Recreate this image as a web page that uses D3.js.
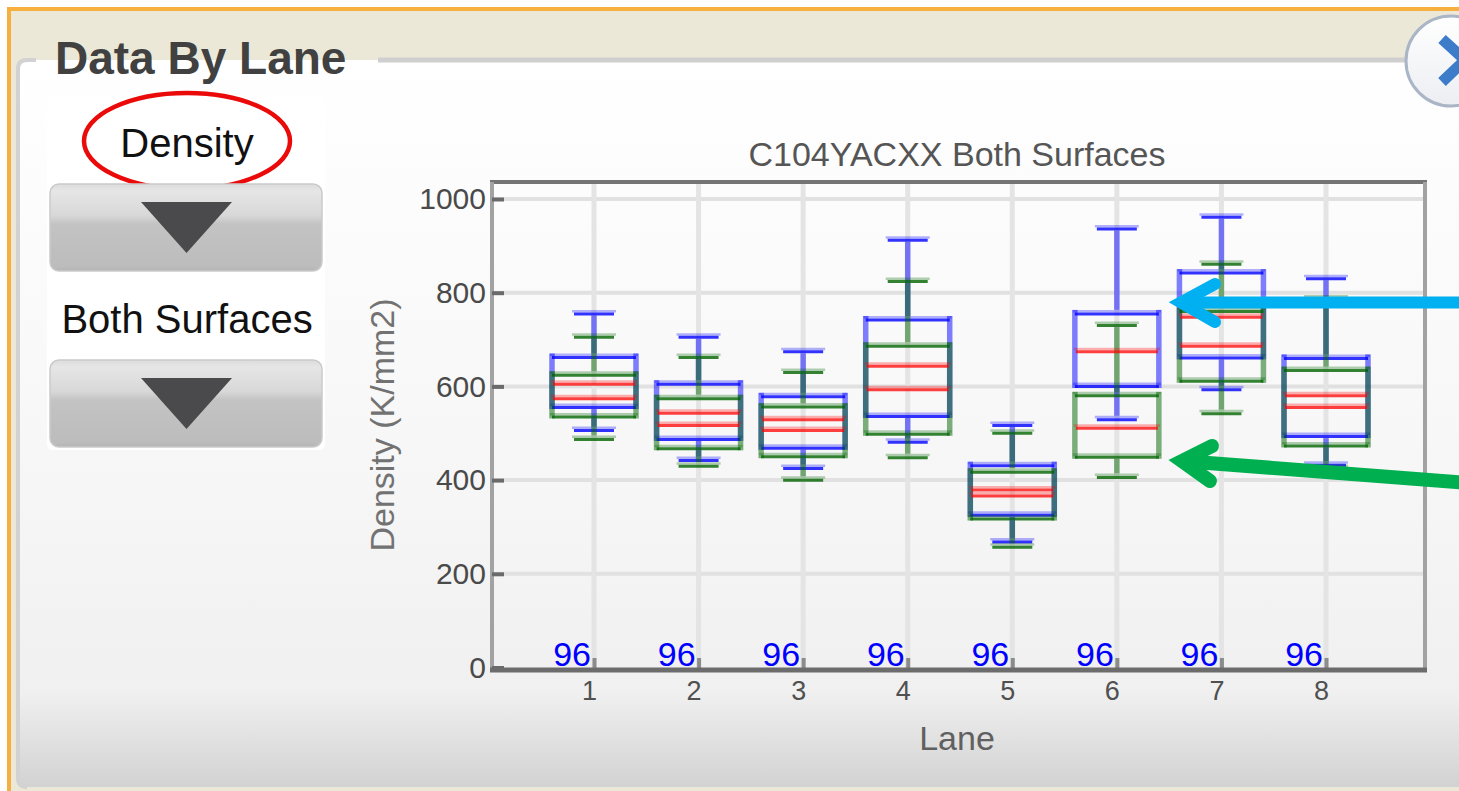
<!DOCTYPE html>
<html>
<head>
<meta charset="utf-8">
<script src="https://cdn.jsdelivr.net/npm/d3@7"></script>
<style>
  html, body { margin: 0; padding: 0; background: #fff; overflow: hidden; }
  svg { display: block; font-family: "Liberation Sans", Arial, sans-serif; }
</style>
</head>
<body>
<svg id="chart" width="1459" height="791"></svg>
<script>
// ---- data ---------------------------------------------------------------
const lanes = [1, 2, 3, 4, 5, 6, 7, 8];
const laneCounts = [96, 96, 96, 96, 96, 96, 96, 96];
const yTicks = [0, 200, 400, 600, 800, 1000];

// surface 1 (blue): whisker low, Q1, median, Q3, whisker high
const s1Low    = [509, 445, 428, 484, 271, 532, 596, 435];
const s1Q1     = [558, 490, 471, 539, 328, 603, 664, 496];
const s1Median = [608, 546, 532, 646, 382, 677, 751, 583];
const s1Q3     = [665, 608, 581, 745, 434, 758, 845, 663];
const s1High   = [758, 708, 677, 915, 520, 939, 964, 833];

// surface 2 (green)
const s2Low    = [490, 433, 403, 451, 260, 409, 545, 428];
const s2Q1     = [538, 470, 453, 501, 320, 452, 614, 476];
const s2Median = [577, 520, 509, 596, 369, 514, 689, 558];
const s2Q3     = [627, 577, 559, 689, 420, 583, 763, 637];
const s2High   = [708, 665, 633, 827, 503, 733, 864, 790];

const chartTitle = "C104YACXX Both Surfaces";
const yTitle = "Density (K/mm2)";
const xTitle = "Lane";
const metricLabel = "Density";
const surfaceLabel = "Both Surfaces";
const panelTitle = "Data By Lane";

// ---- canvas -------------------------------------------------------------
const svg = d3.select("#chart");
const defs = svg.append("defs");

const panelGrad = defs.append("linearGradient")
  .attr("id", "panelGrad").attr("x1", 0).attr("y1", 0).attr("x2", 0).attr("y2", 1);
panelGrad.append("stop").attr("offset", 0).attr("stop-color", "#ffffff");
panelGrad.append("stop").attr("offset", 0.6).attr("stop-color", "#f6f6f6");
panelGrad.append("stop").attr("offset", 0.87).attr("stop-color", "#f0f0f0");
panelGrad.append("stop").attr("offset", 1).attr("stop-color", "#d2d2d2");

const btnGrad = defs.append("linearGradient")
  .attr("id", "btnGrad").attr("x1", 0).attr("y1", 0).attr("x2", 0).attr("y2", 1);
[[0, "#dcdcdc"], [0.08, "#e6e6e6"], [0.36, "#d8d8d8"], [0.46, "#c3c3c3"], [0.95, "#bcbcbc"], [1, "#b4b4b4"]]
  .forEach(([o, c]) => btnGrad.append("stop").attr("offset", o).attr("stop-color", c));

const circGrad = defs.append("linearGradient")
  .attr("id", "circGrad").attr("x1", 0).attr("y1", 0).attr("x2", 0).attr("y2", 1);
circGrad.append("stop").attr("offset", 0).attr("stop-color", "#ffffff");
circGrad.append("stop").attr("offset", 1).attr("stop-color", "#eceef2");

// outer frame
svg.append("rect").attr("x", 9).attr("y", 9).attr("width", 1470).attr("height", 800)
  .attr("fill", "#ece8d8").attr("stroke", "#f7b040").attr("stroke-width", 4);

// panel body
svg.append("rect").attr("x", 18).attr("y", 60).attr("width", 1460).attr("height", 727)
  .attr("rx", 8).attr("fill", "url(#panelGrad)");
svg.append("path")
  .attr("d", "M36,60 L27,60 Q18,60 18,69 L18,778 Q18,787 27,787")
  .attr("fill", "none").attr("stroke", "#d2d2d2").attr("stroke-width", 4);
svg.append("path").attr("d", "M378,60 L1470,60")
  .attr("fill", "none").attr("stroke", "#cfcfcf").attr("stroke-width", 5);

svg.append("text").attr("x", 55).attr("y", 74)
  .attr("font-size", 46).attr("font-weight", "bold").attr("fill", "#414141")
  .text(panelTitle);

// round navigation button
svg.append("circle").attr("cx", 1451).attr("cy", 61).attr("r", 45)
  .attr("fill", "url(#circGrad)").attr("stroke", "#aab5c6").attr("stroke-width", 3);
svg.append("polyline").attr("points", "1442,39 1465,60 1442,82")
  .attr("fill", "none").attr("stroke", "#3c7cc8").attr("stroke-width", 11);

// ---- selector widgets --------------------------------------------------
svg.append("rect").attr("x", 47).attr("y", 97).attr("width", 278).attr("height", 353)
  .attr("rx", 6).attr("fill", "#ffffff");

function dropButton(top) {
  svg.append("rect").attr("x", 50).attr("y", top).attr("width", 272).attr("height", 87)
    .attr("rx", 9).attr("fill", "url(#btnGrad)").attr("stroke", "#cacaca").attr("stroke-width", 1.5);
  svg.append("path")
    .attr("d", `M141,${top + 18} L232,${top + 18} L186.5,${top + 69} Z`)
    .attr("fill", "#4a4a4c");
}

svg.append("text").attr("x", 187).attr("y", 157).attr("text-anchor", "middle")
  .attr("font-size", 40).attr("fill", "#111").text(metricLabel);
svg.append("ellipse").attr("cx", 187).attr("cy", 141).attr("rx", 103).attr("ry", 48)
  .attr("fill", "none").attr("stroke", "#ea0a0a").attr("stroke-width", 4.5);
dropButton(184);

svg.append("text").attr("x", 187).attr("y", 333).attr("text-anchor", "middle")
  .attr("font-size", 40).attr("fill", "#111").text(surfaceLabel);
dropButton(360);

// ---- chart --------------------------------------------------------------
const plot = { left: 492, right: 1425, top: 182, bottom: 670 };
const x = d3.scaleLinear().domain([1, 8]).range([594, 1326]);
const y = d3.scaleLinear().domain([0, 1000]).range([667.5, 199]);

svg.append("text").attr("x", 957).attr("y", 166).attr("text-anchor", "middle")
  .attr("font-size", 34).attr("fill", "#555").text(chartTitle);

// gridlines
svg.append("g").selectAll("line").data(yTicks.filter(d => d > 0)).join("line")
  .attr("x1", plot.left).attr("x2", plot.right)
  .attr("y1", d => y(d)).attr("y2", d => y(d))
  .attr("stroke", "#e1e1e1").attr("stroke-width", 4);
svg.append("g").selectAll("line").data(lanes).join("line")
  .attr("x1", d => x(d)).attr("x2", d => x(d))
  .attr("y1", plot.top).attr("y2", plot.bottom)
  .attr("stroke", "#e4e4e4").attr("stroke-width", 5);

// frame
svg.append("line").attr("x1", plot.left - 2).attr("x2", plot.right + 2)
  .attr("y1", plot.top).attr("y2", plot.top).attr("stroke", "#747474").attr("stroke-width", 4);
svg.append("line").attr("x1", plot.right).attr("x2", plot.right)
  .attr("y1", plot.top).attr("y2", plot.bottom).attr("stroke", "#a2a2a2").attr("stroke-width", 4);
svg.append("line").attr("x1", plot.left).attr("x2", plot.left)
  .attr("y1", plot.top).attr("y2", plot.bottom).attr("stroke", "#a2a2a2").attr("stroke-width", 4);

// y axis
const yAxis = svg.append("g").attr("transform", `translate(${plot.left},0)`)
  .call(d3.axisLeft(y).tickValues(yTicks).tickFormat(d3.format("d")).tickSize(-12).tickPadding(6));
yAxis.select(".domain").remove();
yAxis.selectAll(".tick line").attr("stroke", "#6a6a6a").attr("stroke-width", 4);
yAxis.selectAll(".tick text").attr("font-size", 30).attr("fill", "#4a4a4a")
  .attr("font-family", "Liberation Sans, Arial, sans-serif").attr("dy", "0.32em");

// x axis
const xAxis = svg.append("g").attr("transform", `translate(0,${plot.bottom})`)
  .call(d3.axisBottom(x).tickValues(lanes).tickFormat(d3.format("d")).tickSize(-12).tickPadding(11));
xAxis.select(".domain").remove();
xAxis.selectAll(".tick line").attr("stroke", "#8c8c8c").attr("stroke-width", 4);
xAxis.selectAll(".tick text").attr("font-size", 27).attr("fill", "#505050")
  .attr("font-family", "Liberation Sans, Arial, sans-serif").attr("dx", -5);
svg.append("line").attr("x1", plot.left - 2).attr("x2", plot.right + 2)
  .attr("y1", plot.bottom).attr("y2", plot.bottom).attr("stroke", "#6c6c6c").attr("stroke-width", 5);

svg.append("text").attr("x", 957).attr("y", 750).attr("text-anchor", "middle")
  .attr("font-size", 34).attr("fill", "#606060").text(xTitle);
svg.append("text").attr("transform", "translate(394,425) rotate(-90)")
  .attr("text-anchor", "middle").attr("font-size", 34).attr("fill", "#727272").text(yTitle);

// ---- box plots ----------------------------------------------------------
const boxHalf = 42, capHalf = 20;

function summaries(low, q1, med, q3, high) {
  return lanes.map((lane, i) => ({ lane, lo: low[i], q1: q1[i], med: med[i], q3: q3[i], hi: high[i] }));
}

// horizontal stroke rendered as a pale upper band over a stronger lower band
function hBands(g, data, x1, x2, yv, color, strong) {
  g.append("g").selectAll("line").data(data).join("line")
    .attr("x1", d => x1(d) - 2).attr("x2", d => x2(d) + 2)
    .attr("y1", d => yv(d) - 1.25).attr("y2", d => yv(d) - 1.25)
    .attr("stroke", color).attr("stroke-opacity", 0.3).attr("stroke-width", 2.5);
  g.append("g").selectAll("line").data(data).join("line")
    .attr("x1", x1).attr("x2", x2)
    .attr("y1", d => yv(d) + 1.5).attr("y2", d => yv(d) + 1.5)
    .attr("stroke", color).attr("stroke-opacity", strong).attr("stroke-width", 3);
}

function vLines(g, data, xv, y1, y2, color) {
  g.append("g").selectAll("line").data(data).join("line")
    .attr("x1", xv).attr("x2", xv).attr("y1", y1).attr("y2", y2)
    .attr("stroke", color).attr("stroke-opacity", 0.5).attr("stroke-width", 5.5);
}

function drawBoxes(data, color) {
  const g = svg.append("g");
  // whiskers
  vLines(g, data, d => x(d.lane), d => y(d.hi) + 3, d => y(d.q3) - 2.5, color);
  vLines(g, data, d => x(d.lane), d => y(d.q1) + 3, d => y(d.lo) - 2.5, color);
  // box sides
  vLines(g, data, d => x(d.lane) - boxHalf, d => y(d.q3) - 2.5, d => y(d.q1) + 3, color);
  vLines(g, data, d => x(d.lane) + boxHalf, d => y(d.q3) - 2.5, d => y(d.q1) + 3, color);
  // caps and box edges
  hBands(g, data, d => x(d.lane) - capHalf, d => x(d.lane) + capHalf, d => y(d.hi), color, 0.8);
  hBands(g, data, d => x(d.lane) - capHalf, d => x(d.lane) + capHalf, d => y(d.lo), color, 0.8);
  hBands(g, data, d => x(d.lane) - boxHalf, d => x(d.lane) + boxHalf, d => y(d.q3), color, 0.8);
  hBands(g, data, d => x(d.lane) - boxHalf, d => x(d.lane) + boxHalf, d => y(d.q1), color, 0.8);
}

const surface1 = summaries(s1Low, s1Q1, s1Median, s1Q3, s1High);
const surface2 = summaries(s2Low, s2Q1, s2Median, s2Q3, s2High);

drawBoxes(surface1, "#0000ff");
drawBoxes(surface2, "#006400");

const medG = svg.append("g");
[surface1, surface2].forEach(data =>
  hBands(medG, data, d => x(d.lane) - boxHalf + 1, d => x(d.lane) + boxHalf - 1, d => y(d.med), "#ff0000", 0.75));

// sample counts along the bottom
svg.append("g").selectAll("text").data(lanes).join("text")
  .attr("x", d => x(d) - 3).attr("y", 666)
  .attr("text-anchor", "end").attr("font-size", 34).attr("fill", "#0000ff")
  .text((d, i) => laneCounts[i]);

// ---- callout arrows -----------------------------------------------------
const blueArrow = svg.append("g").attr("fill", "none").attr("stroke", "#00b0f0").attr("stroke-width", 12);
blueArrow.append("path").attr("d", "M1181,302.5 L1470,302.5").attr("stroke-linecap", "butt");
blueArrow.append("path").attr("d", "M1215,284 L1181,302.5 L1215,322")
  .attr("stroke-linecap", "round").attr("stroke-linejoin", "miter").attr("stroke-miterlimit", 6);

const greenArrow = svg.append("g").attr("fill", "none").attr("stroke", "#00b050").attr("stroke-width", 14);
greenArrow.append("path").attr("d", "M1182,461 L1470,483").attr("stroke-linecap", "butt");
greenArrow.append("path").attr("d", "M1212,446 L1182,461 L1210,481")
  .attr("stroke-linecap", "round").attr("stroke-linejoin", "miter").attr("stroke-miterlimit", 6);
</script>
</body>
</html>
